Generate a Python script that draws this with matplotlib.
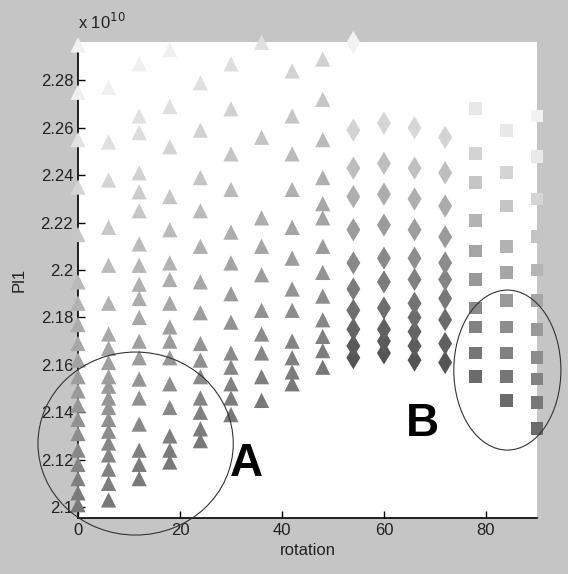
import numpy as np
import matplotlib.pyplot as plt
from matplotlib.patches import Ellipse
from matplotlib.ticker import FuncFormatter

plt.rcParams['font.family'] = ['Liberation Sans', 'DejaVu Sans']

# Pl1 values (x 1e10) read per rotation column
rotation = [0, 6, 12, 18, 24, 30, 36, 42, 48, 54, 60, 66, 72, 78, 84, 90]
pl1_0 = [2.101, 2.106, 2.112, 2.118, 2.124, 2.131, 2.137, 2.143, 2.149, 2.155,
         2.162, 2.169, 2.177, 2.186, 2.195, 2.215, 2.235, 2.255, 2.275, 2.295]
pl1_6 = [2.103, 2.110, 2.116, 2.122, 2.127, 2.132, 2.137, 2.142, 2.146, 2.151,
         2.155, 2.161, 2.167, 2.173, 2.186, 2.202, 2.218, 2.238, 2.254, 2.277]
pl1_12 = [2.112, 2.118, 2.124, 2.135, 2.146, 2.154, 2.163, 2.170, 2.180, 2.188,
          2.194, 2.202, 2.211, 2.225, 2.233, 2.241, 2.258, 2.265, 2.287]
pl1_18 = [2.119, 2.124, 2.130, 2.142, 2.152, 2.163, 2.170, 2.176, 2.186, 2.196,
          2.203, 2.217, 2.231, 2.252, 2.269, 2.293]
pl1_24 = [2.128, 2.133, 2.140, 2.146, 2.155, 2.162, 2.169, 2.182, 2.195, 2.210,
          2.225, 2.239, 2.259, 2.279]
pl1_30 = [2.139, 2.146, 2.152, 2.159, 2.165, 2.178, 2.190, 2.203, 2.216, 2.234,
          2.249, 2.268, 2.287]
pl1_36 = [2.145, 2.155, 2.165, 2.173, 2.183, 2.198, 2.210, 2.222, 2.256, 2.296]
pl1_42 = [2.152, 2.157, 2.163, 2.170, 2.183, 2.192, 2.205, 2.218, 2.234, 2.249,
          2.265, 2.284]
pl1_48 = [2.159, 2.166, 2.172, 2.179, 2.189, 2.199, 2.210, 2.222, 2.228, 2.239,
          2.255, 2.272, 2.289]
pl1_54 = [2.163, 2.168, 2.175, 2.183, 2.192, 2.203, 2.217, 2.231, 2.243, 2.259,
          2.296]
pl1_60 = [2.165, 2.170, 2.175, 2.184, 2.195, 2.205, 2.219, 2.232, 2.245, 2.262]
pl1_66 = [2.162, 2.168, 2.174, 2.180, 2.186, 2.196, 2.205, 2.217, 2.230, 2.243,
          2.260]
pl1_72 = [2.161, 2.169, 2.179, 2.188, 2.196, 2.203, 2.214, 2.227, 2.241, 2.256]
pl1_78 = [2.155, 2.165, 2.176, 2.184, 2.196, 2.208, 2.221, 2.237, 2.249, 2.268]
pl1_84 = [2.145, 2.155, 2.165, 2.176, 2.187, 2.199, 2.210, 2.227, 2.241, 2.259]
pl1_90 = [2.133, 2.144, 2.154, 2.163, 2.175, 2.187, 2.200, 2.214, 2.230, 2.248,
          2.265]
columns = [pl1_0, pl1_6, pl1_12, pl1_18, pl1_24, pl1_30, pl1_36, pl1_42,
           pl1_48, pl1_54, pl1_60, pl1_66, pl1_72, pl1_78, pl1_84, pl1_90]

yticks = [2.1, 2.12, 2.14, 2.16, 2.18, 2.2, 2.22, 2.24, 2.26, 2.28]
xticks = [0, 20, 40, 60, 80]

fig = plt.figure(figsize=(5.68, 5.74), dpi=100, facecolor='#c5c5c5')
ax = fig.add_axes([0.1373, 0.0976, 0.808, 0.8292])
ax.set_facecolor('white')

for r, vals in zip(rotation, columns):
    v = np.array(vals)
    # marker family and grey ramp (darker at the bottom of each column)
    if r <= 48:
        m, s, g0, k = '^', 120, 0.47, 2.7
    elif r <= 72:
        m, s, g0, k = 'd', 140, 0.33, 5.2
    else:
        m, s, g0, k = 's', 85, 0.42, 4.3
    g = np.clip(g0 + k * (v - v.min()), 0, 0.95)
    ax.scatter(np.full(len(v), r), v, marker=m, s=s, c=np.stack([g, g, g], 1),
               linewidths=0, clip_on=False, zorder=3)

ax.set_xlim(0, 90)
ax.set_ylim(2.0954, 2.2962)
ax.set_xticks(xticks)
ax.set_yticks(yticks)
ax.yaxis.set_major_formatter(FuncFormatter(lambda v, p: f'{v:g}'))
for side in ['top', 'right']:
    ax.spines[side].set_visible(False)
for side in ['left', 'bottom']:
    ax.spines[side].set_linewidth(1.2)
ax.tick_params(direction='in', length=5, width=1, labelsize=12,
               labelcolor='#222222')

ax.set_xlabel('rotation', fontsize=12, color='#222222', labelpad=4)
ax.set_ylabel('Pl1', fontsize=12, color='#222222', labelpad=10)
ax.text(0.0, 1.02, r'x 10$^{10}$', transform=ax.transAxes, fontsize=12,
        color='#222222', va='bottom', ha='left')

ax.add_patch(Ellipse((11.3, 2.1268), 38.3, 0.0772, fill=False, lw=0.8,
                     ec='#333333', clip_on=False, zorder=4))
ax.add_patch(Ellipse((84.2, 2.1578), 21.0, 0.0675, fill=False, lw=0.8,
                     ec='#333333', clip_on=False, zorder=4))
ax.text(33.0, 2.118, 'A', fontsize=33, fontweight='bold', ha='center',
        va='center')
ax.text(67.6, 2.135, 'B', fontsize=33, fontweight='bold', ha='center',
        va='center')

fig.savefig('out.png', dpi=100, facecolor=fig.get_facecolor())
